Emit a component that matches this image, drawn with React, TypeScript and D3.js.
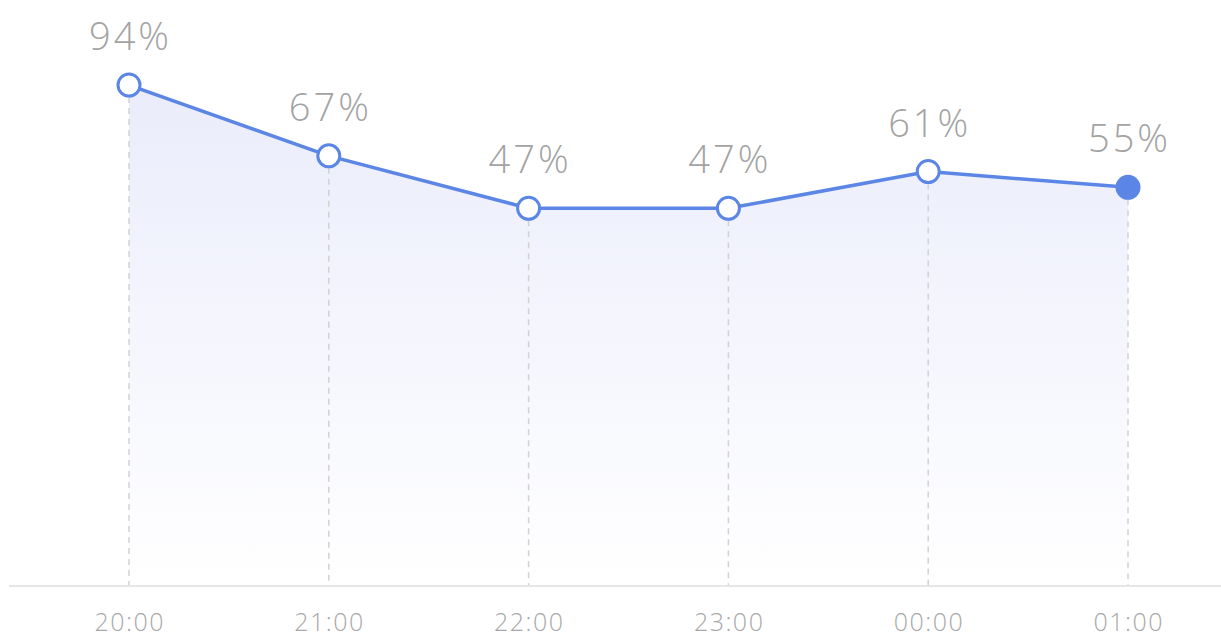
import { useEffect, useRef } from 'react'
import * as d3 from 'd3'

const hours = ['20:00', '21:00', '22:00', '23:00', '00:00', '01:00']
const rates = [94, 67, 47, 47, 61, 55]

const width = 1221
const height = 640
const baseline = 586

export default function App() {
  const svgRef = useRef<SVGSVGElement>(null)

  useEffect(() => {
    if (!svgRef.current) return
    const svg = d3.select(svgRef.current)
    svg.selectAll('*').remove()

    const x = d3.scalePoint<string>().domain(hours).range([129, 1128])
    const y = d3.scaleLinear().domain([-97, 100]).range([baseline, 69.3])

    const data = hours.map((h, i) => ({ h, v: rates[i] }))

    const defs = svg.append('defs')
    const grad = defs.append('linearGradient')
      .attr('id', 'fillGrad')
      .attr('x1', 0).attr('y1', 0).attr('x2', 0).attr('y2', 1)
    grad.append('stop').attr('offset', '0%').attr('stop-color', '#eaecfb')
    grad.append('stop').attr('offset', '100%').attr('stop-color', '#ffffff')

    // filled area under the line
    const area = d3.area<any>()
      .x(d => x(d.h)!)
      .y0(baseline)
      .y1(d => y(d.v))
    svg.append('path')
      .datum(data)
      .attr('d', area)
      .attr('fill', 'url(#fillGrad)')

    // dashed drop lines
    svg.append('g')
      .selectAll('line')
      .data(data)
      .join('line')
      .attr('x1', d => x(d.h)!)
      .attr('x2', d => x(d.h)!)
      .attr('y1', d => y(d.v) + 12)
      .attr('y2', baseline)
      .attr('stroke', '#d2d2d2')
      .attr('stroke-width', 1.5)
      .attr('stroke-dasharray', '6 5')

    // x axis baseline
    svg.append('line')
      .attr('x1', 9).attr('x2', width)
      .attr('y1', baseline).attr('y2', baseline)
      .attr('stroke', '#e6e6e6')
      .attr('stroke-width', 2)

    // x tick labels (dx offsets the trailing letter-spacing)
    svg.append('g')
      .selectAll('text')
      .data(hours)
      .join('text')
      .attr('x', d => x(d)!)
      .attr('dx', 0.75)
      .attr('y', 631)
      .attr('text-anchor', 'middle')
      .attr('font-family', '"Open Sans", "Noto Sans", sans-serif')
      .attr('font-weight', 300)
      .attr('font-size', 25)
      .attr('letter-spacing', 1.5)
      .attr('fill', '#a8a8a8')
      .text(d => d)

    // line
    const line = d3.line<any>()
      .x(d => x(d.h)!)
      .y(d => y(d.v))
    svg.append('path')
      .datum(data)
      .attr('d', line)
      .attr('fill', 'none')
      .attr('stroke', '#5b86e5')
      .attr('stroke-width', 3.5)

    // points
    svg.append('g')
      .selectAll('circle')
      .data(data)
      .join('circle')
      .attr('cx', d => x(d.h)!)
      .attr('cy', d => y(d.v))
      .attr('r', 11)
      .attr('fill', (d, i) => (i === data.length - 1 ? '#5b86e5' : '#ffffff'))
      .attr('stroke', '#5b86e5')
      .attr('stroke-width', 3)

    // value labels
    svg.append('g')
      .selectAll('text')
      .data(data)
      .join('text')
      .attr('x', d => x(d.h)!)
      .attr('dx', 1.5)
      .attr('y', d => y(d.v) - 35)
      .attr('text-anchor', 'middle')
      .attr('font-family', '"Open Sans", "Noto Sans", sans-serif')
      .attr('font-weight', 300)
      .attr('font-size', 38)
      .attr('letter-spacing', 3)
      .attr('fill', '#a3a3a3')
      .text(d => `${d.v}%`)
  }, [])

  return (
    <svg
      ref={svgRef}
      width={width}
      height={height}
      style={{ position: 'absolute', left: 0, top: 0, display: 'block', background: '#fff' }}
    />
  )
}
